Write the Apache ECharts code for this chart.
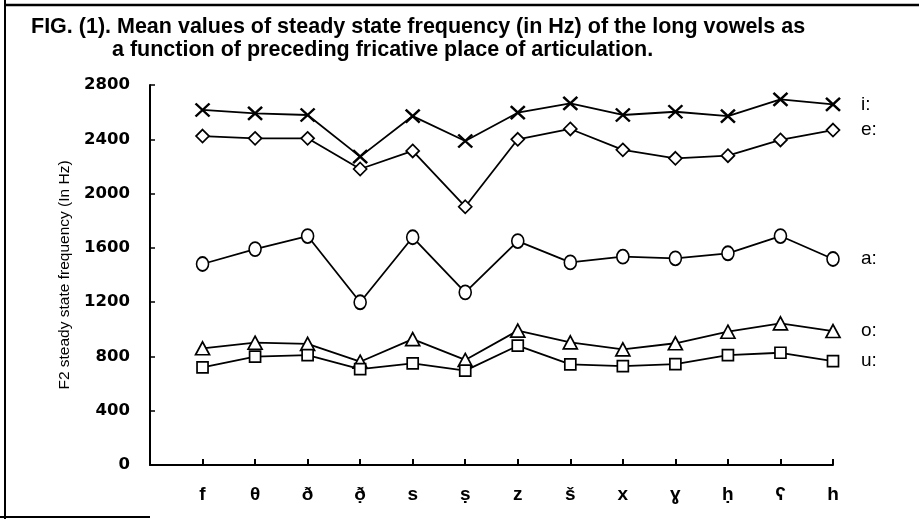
<!DOCTYPE html>
<html><head><meta charset="utf-8">
<script src="https://cdn.jsdelivr.net/npm/echarts@6/dist/echarts.min.js"></script>
<style>html,body{margin:0;padding:0;background:#fff}#c{width:919px;height:519px}</style>
</head><body><div id="c"></div>
<script>
const categories = ['', 'f', 'θ', 'ð', 'ð̣', 's', 'ṣ', 'z', 'š', 'x', 'ɣ', 'ḥ', 'ʕ', 'h'];
const vowelNames = ['i:', 'e:', 'a:', 'o:', 'u:'];
const iValues = [2616, 2591, 2579, 2272, 2571, 2387, 2596, 2665, 2579, 2603, 2571, 2694, 2657];
const eValues = [2424, 2407, 2407, 2181, 2314, 1903, 2400, 2476, 2322, 2260, 2279, 2395, 2468];
const aValues = [1481, 1591, 1687, 1199, 1678, 1272, 1650, 1493, 1535, 1523, 1560, 1687, 1518];
const oValues = [860, 901, 892, 761, 928, 774, 990, 904, 852, 897, 982, 1044, 987];
const uValues = [720, 798, 810, 707, 749, 695, 879, 742, 729, 744, 810, 827, 766];
const yTicks = [0, 400, 800, 1200, 1600, 2000, 2400, 2800];
const titleLine1 = 'FIG. (1). Mean values of steady state frequency (in Hz) of the long vowels as';
const titleLine2 = 'a function of preceding fricative place of articulation.';
const yName = 'F2 steady state frequency (In Hz)';

const seriesValues = [iValues, eValues, aValues, oValues, uValues];
const symbols = ['path://M0,0L10,10M10,0L0,10', 'diamond', 'circle', 'triangle', 'rect'];
const sizes = [[14, 13], [13, 13], [12, 14], [14, 13], [11, 11]];

const chart = echarts.init(document.getElementById('c'), null, {renderer: 'canvas'});
chart.setOption({
  animation: false,
  backgroundColor: '#fff',
  title: [
    {text: titleLine1, left: 26, top: 11, textStyle: {fontFamily: 'Liberation Sans', fontWeight: 'bold', fontSize: 21.5, color: '#000'}},
    {text: titleLine2, left: 107, top: 34, textStyle: {fontFamily: 'Liberation Sans', fontWeight: 'bold', fontSize: 21.5, color: '#000'}}
  ],
  graphic: [
    {type: 'line', shape: {x1: 5, y1: 0, x2: 5, y2: 519}, style: {stroke: '#000', lineWidth: 2}},
    {type: 'line', shape: {x1: 5, y1: 5, x2: 919, y2: 5}, style: {stroke: '#000', lineWidth: 2.5}},
    {type: 'line', shape: {x1: 0, y1: 517, x2: 150, y2: 517}, style: {stroke: '#000', lineWidth: 2}}
  ],
  grid: {left: 150, right: 86, top: 85, bottom: 54, containLabel: false},
  xAxis: {
    type: 'category', data: categories, boundaryGap: false,
    axisLine: {lineStyle: {color: '#000', width: 2}},
    axisTick: {inside: true, length: 6, lineStyle: {color: '#000', width: 2}},
    axisLabel: {color: '#000', fontFamily: 'Liberation Sans', fontWeight: 'bold', fontSize: 19, margin: 20},
    splitLine: {show: false}
  },
  yAxis: {
    type: 'value', min: 0, max: 2800, interval: 400,
    name: yName, nameLocation: 'middle', nameGap: 72, nameRotate: 90,
    nameTextStyle: {fontFamily: 'Liberation Sans', fontSize: 15.5, color: '#000'},
    axisLine: {show: true, lineStyle: {color: '#000', width: 2}},
    axisTick: {show: true, inside: true, length: 5, lineStyle: {color: '#000', width: 1.5}},
    axisLabel: {color: '#000', fontFamily: 'DejaVu Sans', fontWeight: 'bold', fontSize: 16.5, margin: 20,
      formatter: v => yTicks.includes(v) ? String(v) : ''},
    splitLine: {show: false}
  },
  series: seriesValues.map((vals, k) => ({
    type: 'line', name: vowelNames[k],
    data: [null].concat(vals),
    symbol: symbols[k], symbolSize: sizes[k], showAllSymbol: true,
    lineStyle: {color: '#000', width: 1.8},
    itemStyle: {color: '#fff', borderColor: '#000', borderWidth: k === 0 ? 2.4 : 1.7},
    endLabel: {show: true, formatter: vowelNames[k], color: '#000', fontFamily: 'Liberation Sans', fontSize: 19, distance: 28},
    z: 2
  }))
});
</script></body></html>
